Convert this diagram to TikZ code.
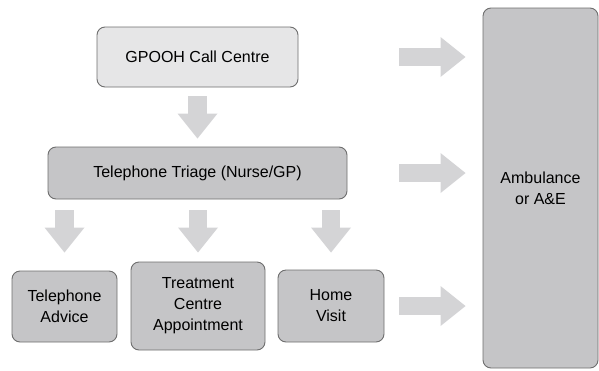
\documentclass[tikz,border=0pt]{standalone}
\usepackage{fontspec}
\setmainfont{Liberation Sans}
\usetikzlibrary{arrows.meta}
\definecolor{C0}{RGB}{230,230,231}
\definecolor{C1}{RGB}{197,197,199}
\definecolor{C2}{RGB}{212,212,214}
\definecolor{C3}{RGB}{110,110,110}
\tikzset{
  box/.style={draw=C3,line width=0.9pt,rounded corners=8pt,fill=C1,
    align=center,inner sep=0pt,font=\fontsize{16}{21}\selectfont},
  blockarrow/.style={draw=C2,line width=18.5pt,
    -{Triangle[width=40pt,length=25pt,line width=0pt]}}
}
\begin{document}
\begin{tikzpicture}[x=1pt,y=-1pt]
  \useasboundingbox (0,0) rectangle (599,370);

  % Call centre and triage.
  \node[box,fill=C0,minimum width=201pt,minimum height=60pt] (gpooh) at (197.5,57) {GPOOH Call Centre};
  \node[box,minimum width=299pt,minimum height=52pt] (triage) at (197.5,173) {Telephone Triage (Nurse/GP)};

  % Outcomes of triage.
  \node[box,minimum width=105pt,minimum height=71pt] (advice) at (64.5,306.5) {Telephone\\Advice};
  \node[box,minimum width=134pt,minimum height=88pt] (treatment) at (198,306) {Treatment\\Centre\\Appointment};
  \node[box,minimum width=106pt,minimum height=72pt] (visit) at (331,306) {Home\\Visit};

  % Emergency route.
  \node[box,minimum width=115pt,minimum height=360pt] (ambulance) at (540.5,188) {Ambulance\\or A\&E};

  % Downward arrows.
  \draw[blockarrow,shorten <=9pt,shorten >=8pt] (gpooh.south) -- (triage.north);
  \draw[blockarrow,shorten <=11pt,shorten >=18pt] (triage.south -| advice) -- (advice.north);
  \draw[blockarrow,shorten <=11pt,shorten >=9pt] (triage.south -| treatment) -- (treatment.north);
  \draw[blockarrow,shorten <=11pt,shorten >=17pt] (triage.south -| visit) -- (visit.north);

  % Arrows to ambulance.
  \draw[blockarrow,shorten <=101pt,shorten >=17pt] (gpooh.east) -- (gpooh -| ambulance.west);
  \draw[blockarrow,shorten <=52pt,shorten >=17pt] (triage.east) -- (triage -| ambulance.west);
  \draw[blockarrow,shorten <=15pt,shorten >=17pt] (visit.east) -- (visit -| ambulance.west);

\end{tikzpicture}
\end{document}
